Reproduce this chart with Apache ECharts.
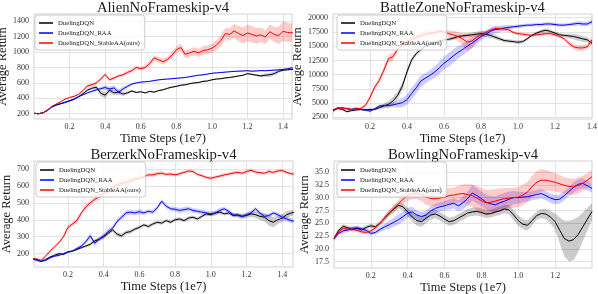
<!DOCTYPE html>
<html><head><meta charset="utf-8">
<script src="https://cdn.jsdelivr.net/npm/echarts@6/dist/echarts.min.js"></script>
<style>html,body{margin:0;padding:0;background:#fff}#c{width:598px;height:294px}</style>
</head><body><div id="c"></div>
<script>
// Time steps (1e7)
const steps = [0,0.025,0.05,0.075,0.1,0.125,0.15,0.175,0.2,0.225,0.25,0.275,0.3,0.325,0.35,0.375,0.4,0.425,0.45,0.475,0.5,0.525,0.55,0.575,0.6,0.625,0.65,0.675,0.7,0.725,0.75,0.775,0.8,0.825,0.85,0.875,0.9,0.925,0.95,0.975,1.0,1.025,1.05,1.075,1.1,1.125,1.15,1.175,1.2,1.225,1.25,1.275,1.3,1.325,1.35,1.375,1.4,1.425,1.45,1.475];

const seriesNames = ['DuelingDQN','DuelingDQN_RAA','DuelingDQN_StableAA(ours)'];

// ---- Alien ----
const alienDQN = [205,200,210,245,290,315,330,350,370,390, 420,460,505,530,545,465,440,505,470,480, 455,470,495,475,485,470,490,480,500,510, 530,545,555,570,575,590,600,605,620,625, 640,650,655,665,670,680,690,700,720,710, 700,690,700,705,720,750,765,770,775,780];
const alienDQNw = [8,8,8,8,8,8,8,8,8,8, 10,12,15,20,25,35,40,35,30,30, 25,20,15,12,10,10,10,10,10,10, 10,10,10,10,10,10,10,10,10,10, 10,10,10,10,10,10,10,10,12,12, 15,18,22,25,25,20,15,12,10,10];
const alienRAA = [205,200,210,240,285,310,330,345,365,385, 420,445,470,490,510,525,540,520,535,480, 520,555,585,600,610,615,620,630,640,645, 650,655,660,665,670,680,690,700,705,715, 725,730,735,740,745,750,752,755,758,752, 755,760,758,762,765,770,775,785,795,800];
const alienRAAw = [8,8,8,8,8,8,8,8,8,8, 8,10,12,15,18,22,28,32,35,35, 30,22,15,10,8,8,8,8,8,8, 8,8,8,8,8,8,8,8,8,8, 8,8,8,8,8,8,8,8,8,8, 8,8,8,8,10,10,10,10,10,10];
const alienSAA = [205,198,210,245,295,325,355,390,410,425, 450,500,560,575,600,650,710,640,665,690, 705,735,760,800,785,800,850,925,900,875, 905,960,1030,1060,970,990,1010,990,1020,1030, 1050,1090,1150,1240,1230,1275,1240,1215,1250,1230, 1210,1225,1195,1265,1230,1215,1270,1255,1250,1250];
const alienSAAw = [8,8,8,8,10,10,10,10,10,12, 12,15,20,20,20,22,25,22,20,20, 22,25,25,25,25,28,30,35,35,35, 35,40,45,50,50,50,55,55,55,60, 60,65,70,75,80,90,100,105,110,105, 100,95,90,95,100,110,130,125,120,120];
const alienYTicks = [200,400,600,800,1000,1200,1400];

// ---- BattleZone ----
const bzDQN = [3700,4100,3900,3500,3700,3800,3900,3800,3900,3900, 4200,4500,4800,5400,6400,8000,10500,12600,13700,14400, 15000,15300,15600,15900,16100,16200,16400,16700,16800,16900, 17000,17100,17200,17100,16900,16600,16300,16000,15900,15800, 15700,15800,16300,16900,17300,17600,17800,17600,17300,17000, 16900,16800,16700,16500,16300,16100,15500];
const bzDQNw = [200,200,200,200,200,200,200,200,200,200, 300,400,600,700,700,650,550,450,400,350, 300,300,300,300,300,300,300,300,300,300, 400,450,500,500,450,400,350,300,300,300, 300,300,300,300,300,300,300,300,300,300, 300,400,500,550,500,450,400];
const bzRAA = [3800,4100,4200,4000,3900,4100,3900,3800,3600,4000, 4500,4600,4600,4700,4900,5100,5600,6700,7700,8900, 9400,9900,10500,11200,12000,12600,13300,13900,14400,15000, 15500,16100,16700,17100,17600,17900,18000,18200,18300,18400, 18500,18600,18700,18700,18800,18800,18900,18900,18800,18700, 18700,18800,18900,19000,18900,18900,19300];
const bzRAAw = [200,200,200,200,200,200,200,200,200,200, 250,300,350,400,600,800,900,1000,1000,1000, 900,900,1000,1100,1200,1200,1200,1100,1000,1000, 900,800,700,600,600,700,600,500,400,300, 300,300,300,300,300,300,300,300,300,300, 300,300,350,400,400,400,400];
const bzSAA = [3600,4200,4000,4100,3900,4000,4100,4600,6000,7800, 9000,10800,12800,13200,14500,15300,15800,16200,16600,16900, 17100,17300,17400,17600,17500,17200,17000,16700,16300,15700, 15900,16500,17000,17400,17800,18100,18100,18000,17900,17400, 17200,17100,17000,16900,17000,17100,17200,17200,17000,16700, 16300,15500,14900,14700,14700,14900,16100];
const bzSAAw = [200,200,200,200,200,200,200,300,400,500, 500,600,700,700,500,500,500,500,500,500, 500,500,500,500,500,600,700,800,1000,1600, 1200,900,600,400,300,300,300,300,300,300, 300,300,300,300,300,300,300,300,300,300, 350,400,500,500,500,500,500];
const bzYTicks = [2500,5000,7500,10000,12500,15000,17500,20000];

// ---- Berzerk ----
const bkDQN = [170,165,155,165,180,190,200,195,210,215, 225,235,245,255,275,285,300,320,340,315, 305,325,330,345,355,370,360,375,385,380, 395,385,400,405,395,410,415,405,420,435, 430,440,445,435,440,425,430,420,425,435, 430,420,415,395,385,400,410,430,440,445];
const bkDQNw = [6,6,6,6,6,6,6,6,6,6, 8,8,8,10,10,10,12,12,12,12, 12,12,12,10,10,10,10,10,10,10, 10,10,10,10,10,10,10,10,10,10, 10,10,10,10,12,12,12,15,15,18, 20,22,25,30,30,25,22,20,18,18];
const bkRAA = [170,160,155,160,175,185,190,200,210,215, 230,245,270,305,262,285,305,330,350,390, 415,440,445,440,448,440,450,445,470,510, 480,465,462,455,460,465,455,450,445,440, 435,440,455,465,450,430,425,420,430,440, 465,440,420,425,440,430,415,405,395,390];
const bkRAAw = [6,6,6,6,6,6,6,6,6,6, 8,10,12,15,15,15,15,15,15,15, 15,15,15,15,15,12,12,12,12,12, 12,12,15,15,15,15,15,15,15,15, 15,15,15,12,12,12,12,12,12,12, 12,12,12,12,12,12,15,15,15,15];
const bkSAA = [170,168,160,185,215,240,265,300,355,375, 395,440,475,500,520,535,555,570,590,605, 615,620,628,640,645,655,665,665,672,675, 668,670,665,672,680,688,685,668,660,650, 645,652,658,665,670,676,680,675,685,692, 682,678,675,685,680,688,690,680,672,668];
const bkSAAw = [8,8,8,8,10,10,10,10,12,12, 15,15,15,15,15,15,18,18,20,20, 20,20,18,15,15,12,12,12,12,12, 10,10,10,10,10,10,10,10,10,10, 10,10,10,10,10,10,10,10,10,10, 10,10,10,10,10,10,10,10,10,10];
const bkYTicks = [200,300,400,500,600,700];

// ---- Bowling ----
const bwDQN = [22.0,23.6,24.4,24.1,23.8,24.0,23.7,24.2,24.5,24.3, 25.0,26.0,27.0,27.8,28.5,28.2,27.2,26.2,25.5,25.3, 26.0,26.6,26.8,26.4,25.8,25.3,25.5,26.0,26.5,27.0, 27.2,27.3,27.1,26.8,26.9,27.2,27.4,27.8,27.6,26.6, 25.5,24.8,24.6,25.5,26.5,26.9,26.8,26.2,25.3,23.6, 22.0,21.5,21.8,22.8,24.3,25.8,27.3];
const bwDQNw = [0.4,0.4,0.4,0.4,0.4,0.4,0.4,0.4,0.4,0.4, 0.4,0.5,0.5,0.6,0.6,0.7,0.8,0.9,1.0,1.0, 1.0,0.9,0.8,0.8,0.8,0.8,0.8,0.8,0.8,0.8, 0.8,0.8,0.8,0.8,0.8,0.8,0.8,0.8,0.9,1.0, 1.0,1.0,1.0,0.9,0.8,0.9,1.0,1.2,1.6,2.5, 3.5,4.0,4.0,3.4,2.8,2.2,1.6];
const bwRAA = [22.0,23.0,23.5,23.7,24.0,24.1,23.9,23.6,23.0,23.2, 23.8,24.3,24.7,25.2,25.7,26.3,27.0,27.2,26.6,26.3, 26.6,27.4,27.9,28.2,28.4,28.7,28.9,28.4,29.0,29.8, 30.9,30.4,29.8,29.1,28.8,28.6,29.0,29.3,29.7,30.0, 30.0,30.1,30.2,30.4,30.6,30.8,30.4,29.9,29.6,29.7, 30.4,31.2,32.0,32.6,32.8,32.3,31.8];
const bwRAAw = [0.4,0.4,0.4,0.4,0.4,0.4,0.4,0.4,0.4,0.4, 0.5,0.6,0.8,0.9,1.0,1.0,1.0,1.0,0.9,0.9, 0.9,0.9,0.9,0.9,0.9,1.0,1.0,1.1,1.3,1.4, 1.5,1.5,1.4,1.4,1.5,1.6,1.6,1.6,1.5,1.3, 1.2,1.0,0.9,0.9,0.9,0.9,0.9,0.9,0.9,0.9, 0.9,0.9,1.0,1.0,1.0,0.9,0.8];
const bwSAA = [22.0,23.3,24.0,23.8,23.9,23.6,23.3,23.2,23.5,24.1, 25.0,26.0,27.0,27.9,28.8,29.7,30.4,30.8,30.9,30.6, 30.1,29.8,29.8,29.9,30.1,30.4,30.5,30.7,30.8,30.6, 30.4,29.9,29.4,29.0,29.1,29.3,29.6,29.8,29.9,30.0, 30.1,30.5,31.1,32.2,33.0,33.4,33.4,33.2,33.0,32.7, 32.4,32.2,32.1,32.4,32.8,33.4,34.1];
const bwSAAw = [0.4,0.4,0.4,0.4,0.4,0.4,0.4,0.4,0.4,0.4, 0.4,0.5,0.6,0.7,0.8,0.9,1.0,1.1,1.2,1.3, 1.5,1.5,1.5,1.5,1.5,1.5,1.5,1.6,1.8,2.0, 2.2,2.4,2.5,2.5,2.5,2.4,2.2,2.1,2.0,2.0, 2.0,2.0,2.0,2.1,2.2,2.2,2.0,1.9,1.8,1.7, 1.6,1.6,1.6,1.6,1.5,1.4,1.3];
const bwYTicks = [17.5,20.0,22.5,25.0,27.5,30.0,32.5,35.0];

const xTicks14 = [0.2,0.4,0.6,0.8,1.0,1.2,1.4];
const xTicks12 = [0.2,0.4,0.6,0.8,1.0,1.2];

// ---- layout / style ----
const FONT = 'Liberation Serif';
const lineColors = ['#000000','#0000ff','#ff0000'];
const bandColors = ['rgba(0,0,0,0.2)','rgba(0,0,255,0.2)','rgba(255,0,0,0.2)'];

const panels = [
  {title:'AlienNoFrameskip-v4', grid:{left:34,top:14,width:258,height:105}, xr:[0,1.45], yr:[131,1495], xt:xTicks14, yt:alienYTicks, dec:0, nameGap:19, lg:[35,15],
   data:[[alienDQN,alienDQNw],[alienRAA,alienRAAw],[alienSAA,alienSAAw]]},
  {title:'BattleZoneNoFrameskip-v4', grid:{left:333,top:14,width:259,height:105}, xr:[0,1.40], yr:[2220,20650], xt:xTicks14, yt:bzYTicks, dec:0, nameGap:22, lg:[337,15],
   data:[[bzDQN,bzDQNw],[bzRAA,bzRAAw],[bzSAA,bzSAAw]]},
  {title:'BerzerkNoFrameskip-v4', grid:{left:34,top:161,width:259,height:106}, xr:[0.01,1.46], yr:[121,747], xt:xTicks14, yt:bkYTicks, dec:0, nameGap:19, lg:[36,162],
   data:[[bkDQN,bkDQNw],[bkRAA,bkRAAw],[bkSAA,bkSAAw]]},
  {title:'BowlingNoFrameskip-v4', grid:{left:334,top:161,width:258,height:107}, xr:[0,1.40], yr:[16.25,37.16], xt:xTicks12, yt:bwYTicks, dec:1, nameGap:21, lg:[337,162],
   data:[[bwDQN,bwDQNw],[bwRAA,bwRAAw],[bwSAA,bwSAAw]]}
];

const grids=[], xAxes=[], yAxes=[], series=[], legends=[], graphics=[];
panels.forEach((p,i)=>{
  grids.push(Object.assign({show:true, borderColor:'#d2d2d2', borderWidth:1, backgroundColor:'#fff', containLabel:false, outerBoundsMode:'none'}, p.grid));
  xAxes.push({gridIndex:i, type:'value', min:p.xr[0], max:p.xr[1],
    axisLine:{show:false}, axisTick:{show:false, customValues:p.xt},
    axisLabel:{customValues:p.xt, formatter:v=>(+v).toFixed(1), fontSize:8, color:'#333', margin:4, fontFamily:FONT},
    splitLine:{show:true, lineStyle:{color:'#e2e2e2', width:1}},
    name:'Time Steps (1e7)', nameLocation:'middle', nameGap:13,
    nameTextStyle:{fontSize:12.5, fontFamily:FONT, color:'#1a1a1a'}});
  yAxes.push({gridIndex:i, type:'value', min:p.yr[0], max:p.yr[1],
    axisLine:{show:false}, axisTick:{show:false, customValues:p.yt},
    axisLabel:{customValues:p.yt, formatter:v=>(+v).toFixed(p.dec), fontSize:8, color:'#333', margin:5, fontFamily:FONT},
    splitLine:{show:true, lineStyle:{color:'#e2e2e2', width:1}},
    name:'Average Return', nameLocation:'middle', nameGap:p.nameGap,
    nameTextStyle:{fontSize:12.5, fontFamily:FONT, color:'#1a1a1a'}});
  // bands
  p.data.forEach((d,j)=>{
    const m=d[0], w=d[1];
    const pts = m.map((v,k)=>[steps[k], v-w[k], v+w[k]]);
    series.push({type:'custom', name:'band'+i+'_'+j, xAxisIndex:i, yAxisIndex:i, silent:true, z:1, clip:true,
      data:pts, encode:{x:0, y:[1,2]}, animation:false,
      renderItem:(params, api)=>{
        if (params.dataIndex!==0) return null;
        const up = pts.map(q=>api.coord([q[0],q[2]]));
        const lo = pts.map(q=>api.coord([q[0],q[1]])).reverse();
        return {type:'polygon', shape:{points:up.concat(lo)}, style:{fill:bandColors[j], stroke:null}, silent:true};
      }});
  });
  // lines
  p.data.forEach((d,j)=>{
    series.push({type:'line', name:seriesNames[j], xAxisIndex:i, yAxisIndex:i, z:2+j,
      data:d[0].map((v,k)=>[steps[k], v]), showSymbol:false, symbol:'none', clip:true,
      lineStyle:{color:lineColors[j], width:1}, itemStyle:{color:lineColors[j]}, animation:false});
  });
  legends.push({data:seriesNames, orient:'vertical', left:p.lg[0], top:p.lg[1], padding:[4,5,3,4], itemGap:2,
    itemWidth:14, itemHeight:1.5, icon:'rect', backgroundColor:'rgba(255,255,255,0.8)', borderColor:'#cccccc', borderWidth:1, borderRadius:3,
    selectedMode:false, textStyle:{fontSize:6.7, lineHeight:8, fontFamily:FONT, color:'#1a1a1a'}, z:10});
  graphics.push({type:'text', x:p.grid.left+p.grid.width/2, y:p.grid.top-6, silent:true,
    style:{text:p.title, align:'center', verticalAlign:'middle', textAlign:'center', textVerticalAlign:'middle', font:'14.7px "Liberation Serif"', fill:'#1a1a1a'}});
});

const chart = echarts.init(document.getElementById('c'), null, {renderer:'canvas'});
chart.setOption({animation:false, backgroundColor:'#fff', grid:grids, xAxis:xAxes, yAxis:yAxes, series:series, legend:legends, graphic:graphics});
</script>
</body></html>
